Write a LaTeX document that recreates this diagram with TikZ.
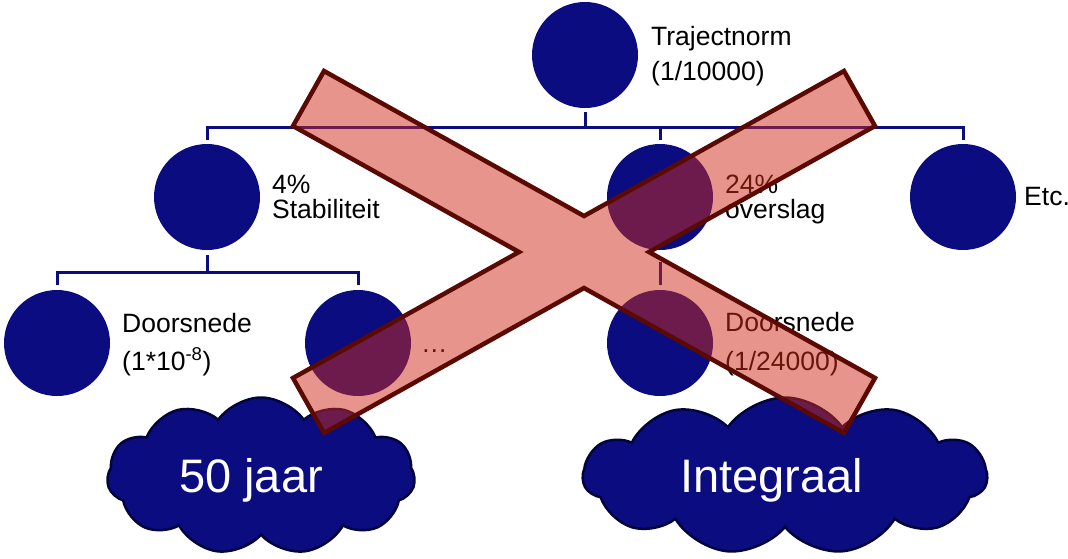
\documentclass[tikz,border=0pt]{standalone}
\usepackage{fontspec}
\setmainfont{Liberation Sans}
\usetikzlibrary{shapes.symbols}
\definecolor{navy}{RGB}{10,12,128}
\definecolor{clouddark}{RGB}{2,4,60}
\definecolor{crossfill}{RGB}{208,43,25}
\definecolor{crossline}{RGB}{90,10,2}
\begin{document}
\begin{tikzpicture}[x=1pt,y=-1pt,
  ball/.style={circle,fill=navy,minimum size=106pt,inner sep=0pt},
  link/.style={draw=navy,line width=3pt,line join=miter},
  lbl/.style={anchor=base west,inner sep=0pt,font=\fontsize{26.5}{30}\selectfont},
  puff/.style={cloud,cloud ignores aspect,cloud puffs=11,cloud puff arc=110,fill=navy,draw=clouddark,
    line width=2.5pt,inner sep=0pt},
  bigtext/.style={anchor=base west,inner sep=0pt,text=white,font=\fontsize{47}{50}\selectfont},
  cross/.style={fill=crossfill,fill opacity=0.5,draw=crossline,line width=4.5pt,line join=miter}]
\useasboundingbox (0,0) rectangle (1068,558);

% tree nodes
\node[ball] (top) at (585,55) {};
\node[ball] (s)   at (207,197) {};
\node[ball] (o)   at (660,197) {};
\node[ball] (etc) at (963,197) {};
\node[ball] (d1)  at (57,343) {};
\node[ball] (d2)  at (358,343) {};
\node[ball] (d3)  at (660,343) {};

% tree connectors
\coordinate (j1) at (585,127);
\coordinate (j2) at (207,272);
\draw[link] ([yshift=-4pt]top.south) -- (j1);
\draw[link] ([yshift=4pt]s.north) |- (j1) -| ([yshift=4pt]etc.north);
\draw[link] ([yshift=4pt]o.north) -- (o.north |- j1);
\draw[link] ([yshift=-5pt]s.south) -- (j2);
\draw[link] ([yshift=5pt]d1.north) |- (j2) -| ([yshift=5pt]d2.north);
\draw[link] ([yshift=-12pt]o.south) -- ([yshift=5pt]d3.north);

% labels
\node[lbl] (t1) at (651,45) {Trajectnorm};
\node[lbl] (t2) at (651,80) {(1/10000)};
\node[lbl] (s1) at (272,193) {4\%};
\node[lbl] (s2) at (272,218) {Stabiliteit};
\node[lbl] (o1) at (725,193) {24\%};
\node[lbl] (o2) at (725,218) {overslag};
\node[lbl] (e1) at (1024,205) {Etc.};
\node[lbl] (a1) at (122,332) {Doorsnede};
\node[lbl] (a2) at (122,370) {(1*10\textsuperscript{-8})};
\node[lbl] (b1) at (421,352) {…};
\node[lbl] (c1) at (725,331) {Doorsnede};
\node[lbl] (c2) at (725,370) {(1/24000)};

% clouds and their captions
\node[puff,minimum width=308pt,minimum height=157pt] (k1) at (261,476) {};
\node[puff,minimum width=404pt,minimum height=157pt] (k2) at (785,476) {};
\node[bigtext] (k1t) at (179,492) {50 jaar};
\node[bigtext] (k2t) at (680,492) {Integraal};

% crossing-out mark
\draw[cross] (293,126) -- (324,71) -- (584,216) -- (844,71) -- (875,126)
  -- (649,252) -- (875,378) -- (844,433) -- (584,288) -- (324,433)
  -- (293,378) -- (519,252) -- cycle;
\end{tikzpicture}
\end{document}
